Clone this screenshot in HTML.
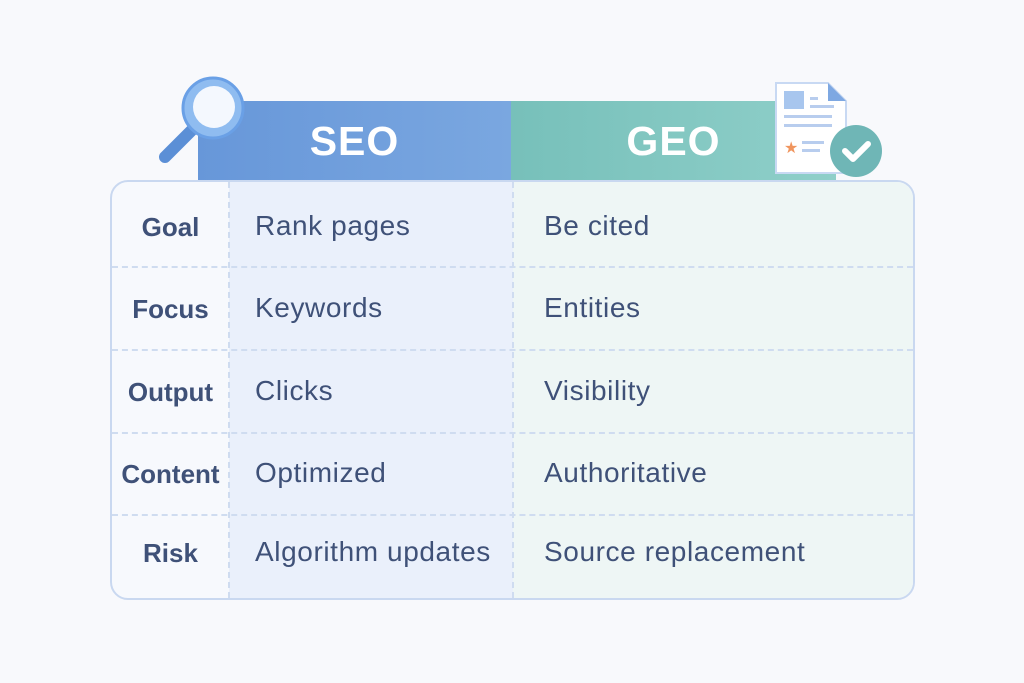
<!DOCTYPE html>
<html><head><style>
body{margin:0;width:1024px;height:683px;background:#f8f9fc;font-family:"Liberation Sans",sans-serif;position:relative;overflow:hidden}
.a{position:absolute}
.hdr{top:101px;height:80px;color:#fff;font-weight:bold;font-size:41px;letter-spacing:1px;display:flex;align-items:center;justify-content:center}
.box{left:110px;top:180px;width:801px;height:416px;border:2px solid #c9d8f0;border-radius:18px;overflow:hidden;background:#f7f9fd}
.lab{left:0;width:117px;text-align:center;font-weight:bold;font-size:26px;color:#3f5178}
.txt{font-size:28px;letter-spacing:0.6px;color:#3f5178}
.h{left:0;width:801px;border-top:2px dashed #cfdcf0}
</style></head><body>
<div class="a hdr" style="left:198px;width:313px;background:linear-gradient(90deg,#6797d9,#7aa7e0)">SEO</div>
<div class="a hdr" style="left:511px;width:325px;background:linear-gradient(90deg,#77c0ba,#8fcfc9)">GEO</div>
<div class="a box">
 <div class="a" style="left:117px;top:0;width:284px;height:416px;background:#eaf0fb"></div>
 <div class="a" style="left:401px;top:0;width:400px;height:416px;background:#eef6f5"></div>
 <div class="a" style="left:116px;top:0;height:416px;border-left:2px dashed #cfdcf0"></div>
 <div class="a" style="left:400px;top:0;height:416px;border-left:2px dashed #cfdcf0"></div>
 <div class="a h" style="top:84px"></div>
 <div class="a h" style="top:167px"></div>
 <div class="a h" style="top:250px"></div>
 <div class="a h" style="top:332px"></div>
 <div class="a lab" style="top:30px">Goal</div>
 <div class="a lab" style="top:112px">Focus</div>
 <div class="a lab" style="top:195px">Output</div>
 <div class="a lab" style="top:277px">Content</div>
 <div class="a lab" style="top:356px">Risk</div>
 <div class="a txt" style="left:143px;top:28px">Rank pages</div>
 <div class="a txt" style="left:143px;top:110px">Keywords</div>
 <div class="a txt" style="left:143px;top:193px">Clicks</div>
 <div class="a txt" style="left:143px;top:275px">Optimized</div>
 <div class="a txt" style="left:143px;top:354px">Algorithm updates</div>
 <div class="a txt" style="left:432px;top:28px">Be cited</div>
 <div class="a txt" style="left:432px;top:110px">Entities</div>
 <div class="a txt" style="left:432px;top:193px">Visibility</div>
 <div class="a txt" style="left:432px;top:275px">Authoritative</div>
 <div class="a txt" style="left:432px;top:354px">Source replacement</div>
</div>
<svg class="a" style="left:150px;top:70px" width="110" height="100">
 <line x1="15" y1="87" x2="42" y2="60" stroke="#5b8fd6" stroke-width="12" stroke-linecap="round"/>
 <circle cx="63" cy="38" r="30" fill="#8fbcf0" stroke="#6aa0e6" stroke-width="3"/>
 <circle cx="64" cy="37" r="21" fill="#f4f8fe"/>
</svg>
<svg class="a" style="left:770px;top:75px" width="120" height="110">
 <path d="M6 8h52l18 18v72H6z" fill="#fff" stroke="#c8d9f3" stroke-width="2"/>
 <path d="M58 8v18h18z" fill="#7ea8e2"/>
 <rect x="14" y="16" width="20" height="18" fill="#a8c6ee"/>
 <rect x="40" y="22" width="8" height="3" fill="#b8cdee"/>
 <rect x="40" y="30" width="24" height="3" fill="#b8cdee"/>
 <rect x="14" y="40" width="48" height="3" fill="#b8cdee"/>
 <rect x="14" y="49" width="48" height="3" fill="#b8cdee"/>
 <text x="14" y="78" font-size="16" fill="#f0955e">★</text>
 <rect x="32" y="66" width="22" height="3" fill="#b8cdee"/>
 <rect x="32" y="74" width="18" height="3" fill="#b8cdee"/>
 <circle cx="86" cy="76" r="26" fill="#6fb6b6"/>
 <path d="M75 76l8 8 15-15" stroke="#fff" stroke-width="6" fill="none" stroke-linecap="round" stroke-linejoin="round"/>
</svg>
</body></html>
